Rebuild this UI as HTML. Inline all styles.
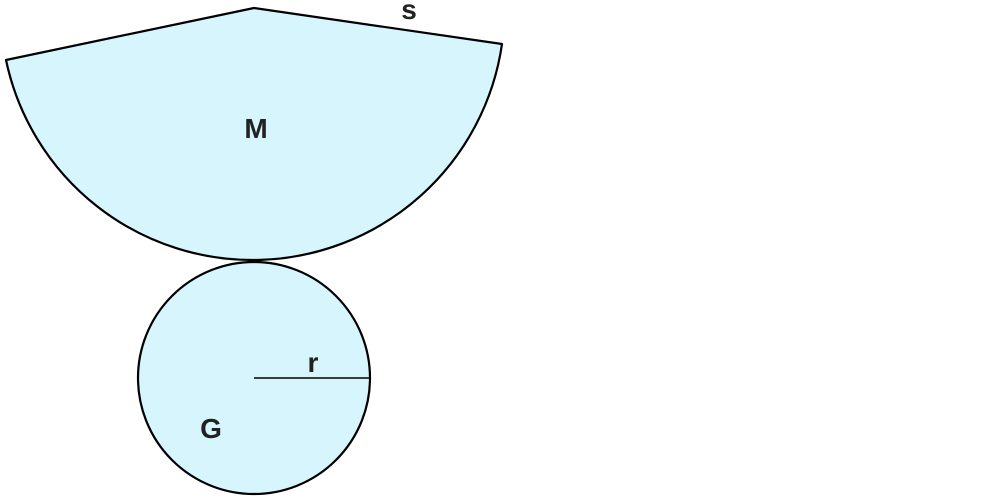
<!DOCTYPE html>
<html><head><meta charset="utf-8"><style>
html,body{margin:0;padding:0;background:#fff;}
svg{display:block;}
text{font-family:"Liberation Sans",sans-serif;font-size:28px;font-weight:bold;fill:#222;text-anchor:middle;}
</style></head><body>
<svg width="1000" height="500" viewBox="0 0 1000 500">
<path d="M254,8 L6,60 A252,252 0 0 0 502,44 Z" fill="#d6f5fd" stroke="#000" stroke-width="2.2" stroke-linejoin="round"/>
<circle cx="254" cy="378" r="116" fill="#d6f5fd" stroke="#000" stroke-width="2.2"/>
<line x1="254" y1="378" x2="370" y2="378" stroke="#000" stroke-width="1.5"/>
<text x="256" y="138">M</text>
<text x="409" y="19">s</text>
<text x="313" y="372">r</text>
<text x="211" y="438">G</text>
</svg>
</body></html>
